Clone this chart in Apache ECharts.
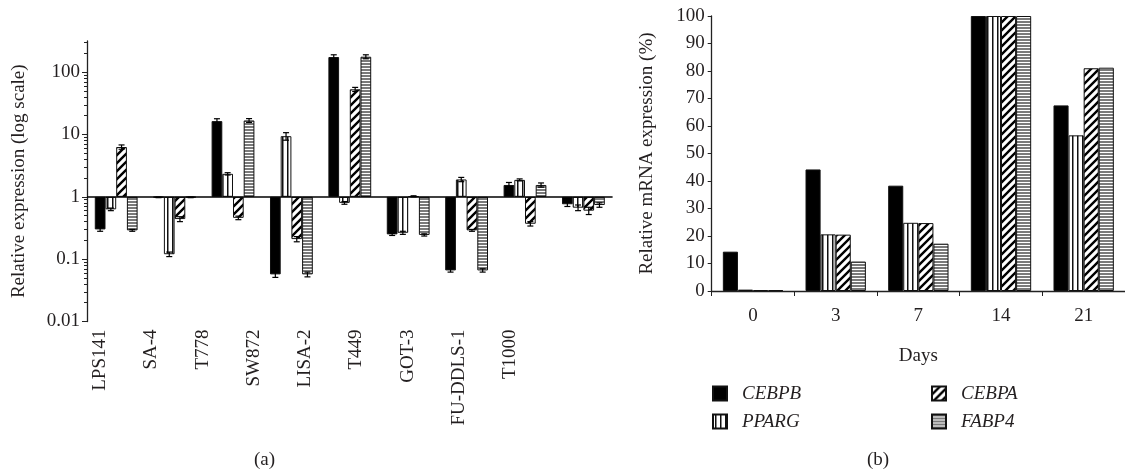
<!DOCTYPE html>
<html>
<head>
<meta charset="utf-8">
<script src="https://cdn.jsdelivr.net/npm/echarts@6/dist/echarts.min.js"></script>
<style>
html,body{margin:0;padding:0;background:#fff;}
#c{width:1125px;height:472px;}
</style>
</head>
<body>
<div id="c"></div>
<script>
// ---------- data ----------
const genes = ['CEBPB', 'PPARG', 'CEBPA', 'FABP4'];

// (a) cell lines, relative expression (log scale), baseline 1
const cellLines = ['LPS141', 'SA-4', 'T778', 'SW872', 'LISA-2', 'T449', 'GOT-3', 'FU-DDLS-1', 'T1000'];
const relCEBPB = [0.30, 0.98, 16.4, 0.057, 175, 0.25, 0.066, 1.55, 0.76];
const relPPARG = [0.63, 0.12, 2.34, 9.4, 0.80, 0.265, 1.9, 1.87, 0.67];
const relCEBPA = [6.3, 0.44, 0.46, 0.21, 53, 1.02, 0.29, 0.37, 0.60];
const relFABP4 = [0.29, 0.98, 16.8, 0.057, 177, 0.245, 0.066, 1.55, 0.74];
const errCEBPB = [0.02, 0.01, 1.5, 0.006, 15, 0.01, 0.004, 0.15, 0.06];
const errPPARG = [0.03, 0.01, 0.1, 1.3, 0.04, 0.015, 0.15, 0.07, 0.07];
const errCEBPA = [0.5, 0.04, 0.03, 0.02, 4, 0.02, 0.01, 0.03, 0.08];
const errFABP4 = [0.01, 0.01, 1.2, 0.005, 13, 0.01, 0.004, 0.12, 0.06];
const logMajorTicks = [0.01, 0.1, 1, 10, 100];
const logMinorTicks = [0.02,0.03,0.04,0.05,0.06,0.07,0.08,0.09,
                       0.2,0.3,0.4,0.5,0.6,0.7,0.8,0.9,
                       2,3,4,5,6,7,8,9,
                       20,30,40,50,60,70,80,90,
                       200,300];

// (b) days of differentiation, relative mRNA expression (%)
const days = ['0', '3', '7', '14', '21'];
const pctCEBPB = [14.3, 44.2, 38.3, 100, 67.5];
const pctPPARG = [0.5, 20.6, 24.8, 100, 56.6];
const pctCEBPA = [0.3, 20.5, 24.7, 100, 81.0];
const pctFABP4 = [0.3, 10.7, 17.2, 100, 81.2];

// ---------- patterns ----------
function makeTile(w, h, draw) {
  const c = document.createElement('canvas');
  c.width = w; c.height = h;
  const ctx = c.getContext('2d');
  ctx.fillStyle = '#fff'; ctx.fillRect(0, 0, w, h);
  draw(ctx);
  return { image: c, repeat: 'repeat' };
}
const fillSolid = '#000';
const fillVert = makeTile(5, 5, ctx => { ctx.fillStyle = '#111'; ctx.fillRect(2, 0, 1.5, 5); });
const fillHatch = makeTile(8, 8, ctx => {
  ctx.strokeStyle = '#000'; ctx.lineWidth = 2.4;
  ctx.beginPath();
  ctx.moveTo(-2, 10); ctx.lineTo(10, -2);
  ctx.moveTo(-2, 2); ctx.lineTo(2, -2);
  ctx.moveTo(6, 10); ctx.lineTo(10, 6);
  ctx.stroke();
});
const fillStripe = makeTile(4, 3, ctx => { ctx.fillStyle = '#7a7a7a'; ctx.fillRect(0, 0, 4, 2); });
const fills = [fillSolid, fillVert, fillHatch, fillStripe];

const txt = '#231f20';
const font = 'Liberation Serif';

const relAll = [relCEBPB, relPPARG, relCEBPA, relFABP4];
const errAll = [errCEBPB, errPPARG, errCEBPA, errFABP4];
const pctAll = [pctCEBPB, pctPPARG, pctCEBPA, pctFABP4];

const GAP_A = 0.267;

const errData = [];
genes.forEach((g, k) => {
  cellLines.forEach((c, i) => {
    errData.push([i, relAll[k][i], errAll[k][i], k]);
  });
});

const series = [];
genes.forEach((g, k) => {
  series.push({
    name: g, type: 'bar', xAxisIndex: 0, yAxisIndex: 0,
    data: relAll[k],
    barGap: '0%', barCategoryGap: (GAP_A * 100) + '%',
    itemStyle: { color: fills[k], borderColor: '#111', borderWidth: 1 },
    emphasis: { disabled: true },
    silent: true,
    markLine: k === 0 ? {
      silent: true, symbol: 'none', label: { show: false },
      lineStyle: { color: '#000', width: 1.5, type: 'solid' },
      data: [{ yAxis: 1 }]
    } : undefined
  });
});
series.push({
  type: 'custom', xAxisIndex: 0, yAxisIndex: 0, silent: true, z: 5,
  data: errData,
  encode: { x: 0, y: 1 },
  renderItem: function (params, api) {
    const i = api.value(0), v = api.value(1), e = api.value(2), k = api.value(3);
    const p0 = api.coord([0, v]), p1 = api.coord([1, v]);
    const band = p1[0] - p0[0];
    const bw = band * (1 - GAP_A) / 4;
    const cx = api.coord([i, v])[0] + (k - 1.5) * bw;
    const yHi = api.coord([i, v + e])[1];
    const yLo = api.coord([i, v - e])[1];
    const cap = 3;
    const st = { stroke: '#000', lineWidth: 1.2 };
    return {
      type: 'group',
      children: [
        { type: 'line', shape: { x1: cx, y1: yHi, x2: cx, y2: yLo }, style: st },
        { type: 'line', shape: { x1: cx - cap, y1: yHi, x2: cx + cap, y2: yHi }, style: st },
        { type: 'line', shape: { x1: cx - cap, y1: yLo, x2: cx + cap, y2: yLo }, style: st }
      ]
    };
  }
});
genes.forEach((g, k) => {
  series.push({
    name: g, type: 'bar', xAxisIndex: 2, yAxisIndex: 3,
    data: pctAll[k],
    barGap: '0%', barCategoryGap: '27%',
    itemStyle: { color: fills[k], borderColor: '#111', borderWidth: 1 },
    emphasis: { disabled: true },
    silent: true
  });
});

const chart = echarts.init(document.getElementById('c'), null, { renderer: 'canvas' });
chart.setOption({
  animation: false,
  backgroundColor: '#fff',
  textStyle: { fontFamily: font, color: txt },
  grid: [
    { left: 87, top: 41, width: 525.6, bottom: 150.5 },
    { left: 74.4, top: 41, width: 461.25, bottom: 150.5 },
    { left: 711.7, top: 16, right: -6.7, bottom: 181 }
  ],
  xAxis: [
    { type: 'category', gridIndex: 0, data: cellLines,
      axisLine: { show: false }, axisTick: { show: false }, axisLabel: { show: false } },
    { type: 'category', gridIndex: 1, data: cellLines,
      axisLine: { show: false }, axisTick: { show: false },
      axisLabel: { rotate: 90, margin: 8, fontSize: 19, fontFamily: font, color: txt } },
    { type: 'category', gridIndex: 2, data: days,
      name: 'Days', nameLocation: 'middle', nameGap: 56,
      nameTextStyle: { fontSize: 19, fontFamily: font, color: txt },
      axisLine: { lineStyle: { color: '#222', width: 1.3 } },
      axisTick: { show: true, length: 5, lineStyle: { color: '#222' } },
      axisLabel: { margin: 16, fontSize: 19, fontFamily: font, color: txt } }
  ],
  yAxis: [
    { type: 'log', gridIndex: 0, logBase: 10, min: 0.01, max: 316.2278,
      name: 'Relative expression (log scale)', nameLocation: 'middle', nameGap: 58,
      nameTextStyle: { fontSize: 19, fontFamily: font, color: txt },
      axisLine: { show: true, lineStyle: { color: '#222', width: 1.3 } },
      axisTick: { show: true, length: 5, customValues: logMajorTicks, lineStyle: { color: '#222' } },
      axisLabel: { customValues: logMajorTicks, margin: 7, fontSize: 19, fontFamily: font, color: txt,
        formatter: v => String(v) },
      splitLine: { show: false } },
    { type: 'log', gridIndex: 0, logBase: 10, min: 0.01, max: 316.2278, position: 'left',
      axisLine: { show: false },
      axisTick: { show: true, length: 3, customValues: logMinorTicks, lineStyle: { color: '#222' } },
      axisLabel: { show: false }, splitLine: { show: false } },
    { type: 'value', gridIndex: 1, show: false },
    { type: 'value', gridIndex: 2, min: 0, max: 100, interval: 10,
      name: 'Relative mRNA expression (%)', nameLocation: 'middle', nameGap: 55,
      nameTextStyle: { fontSize: 19, fontFamily: font, color: txt },
      axisLine: { show: true, lineStyle: { color: '#222', width: 1.3 } },
      axisTick: { show: true, length: 4, lineStyle: { color: '#222' } },
      axisLabel: { margin: 7, fontSize: 19, fontFamily: font, color: txt },
      splitLine: { show: false } }
  ],
  legend: [
    { data: ['CEBPB', 'PPARG'], orient: 'vertical', left: 707, top: 379,
      itemWidth: 14, itemHeight: 14, itemGap: 9, icon: 'rect', selectedMode: false,
      textStyle: { fontSize: 19, fontStyle: 'italic', fontFamily: font, color: txt, padding: [0, 0, 0, 10] } },
    { data: ['CEBPA', 'FABP4'], orient: 'vertical', left: 926, top: 379,
      itemWidth: 14, itemHeight: 14, itemGap: 9, icon: 'rect', selectedMode: false,
      textStyle: { fontSize: 19, fontStyle: 'italic', fontFamily: font, color: txt, padding: [0, 0, 0, 10] } }
  ],
  graphic: [
    { type: 'text', left: 254, top: 451, style: { text: '(a)', font: '19px "Liberation Serif"', fill: txt } },
    { type: 'text', left: 867, top: 451, style: { text: '(b)', font: '19px "Liberation Serif"', fill: txt } }
  ],
  series: series
});
</script>
</body>
</html>
